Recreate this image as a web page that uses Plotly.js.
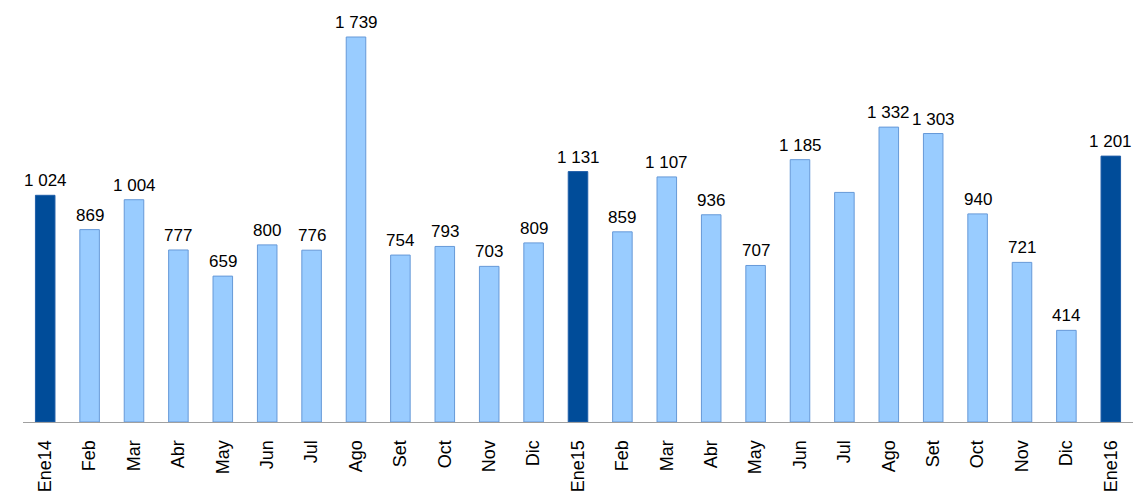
<!DOCTYPE html>
<html>
<head>
<meta charset="utf-8">
<script src="https://cdn.plot.ly/plotly-3.0.1.min.js"></script>
<style>
  html, body { margin: 0; padding: 0; background: #fff; }
  #chartDiv { width: 1134px; height: 492px; }
</style>
</head>
<body>
<div id="chartDiv"></div>
<script>
  // months from Ene14 to Ene16
  const months = ['Ene14','Feb','Mar','Abr','May','Jun','Jul','Ago','Set','Oct','Nov','Dic',
                  'Ene15','Feb','Mar','Abr','May','Jun','Jul','Ago','Set','Oct','Nov','Dic','Ene16'];
  const values = [1024, 869, 1004, 777, 659, 800, 776, 1739, 754, 793, 703, 809,
                  1131, 859, 1107, 936, 707, 1185, 1037, 1332, 1303, 940, 721, 414, 1201];
  // Jul 2015 has no label in the picture
  const showLabel = [1,1,1,1,1,1,1,1,1,1,1,1, 1,1,1,1,1,1,0,1,1,1,1,1,1];

  function fmt(v) {
    let s = String(v);
    if (s.length > 3) { s = s.slice(0, s.length - 3) + ' ' + s.slice(-3); }
    return s;
  }

  let xIdx = [];
  let fills = [];
  let borders = [];
  let notes = [];
  for (let i = 0; i < values.length; i++) {
    xIdx.push(i);
    if (months[i].indexOf('Ene') === 0) { fills.push('#004c99'); borders.push('#1f5ea8'); }
    else { fills.push('#99ccff'); borders.push('#6699d8'); }
    if (showLabel[i]) {
      notes.push({
        x: i, y: values[i], xref: 'x', yref: 'y',
        text: fmt(values[i]), showarrow: false,
        yanchor: 'bottom', yshift: 3,
        font: { family: 'Liberation Sans, Arial, sans-serif', size: 17, color: '#000' }
      });
    }
  }

  var trace1 = {
    x: xIdx,
    y: values,
    type: 'bar',
    marker: { color: fills, line: { color: borders, width: 1 } },
    hoverinfo: 'none'
  };

  var layout = {
    width: 1134,
    height: 492,
    margin: { l: 23, r: 1, t: 10, b: 70 },
    paper_bgcolor: '#fff',
    plot_bgcolor: '#fff',
    showlegend: false,
    bargap: 0.56,
    annotations: notes,
    xaxis: {
      range: [-0.5, 24.5],
      tickmode: 'array',
      tickvals: xIdx,
      ticktext: months,
      tickangle: -90,
      ticks: 'outside',
      ticklen: 10,
      tickcolor: 'rgba(0,0,0,0)',
      showgrid: false,
      zeroline: false,
      showline: true,
      linecolor: '#a0a0a0',
      linewidth: 1,
      tickfont: { family: 'Liberation Sans, Arial, sans-serif', size: 18, color: '#000' }
    },
    yaxis: {
      range: [0, 1861],
      visible: false,
      showgrid: false,
      zeroline: false
    }
  };

  Plotly.newPlot('chartDiv', [trace1], layout, { displayModeBar: false, staticPlot: true });
</script>
</body>
</html>
